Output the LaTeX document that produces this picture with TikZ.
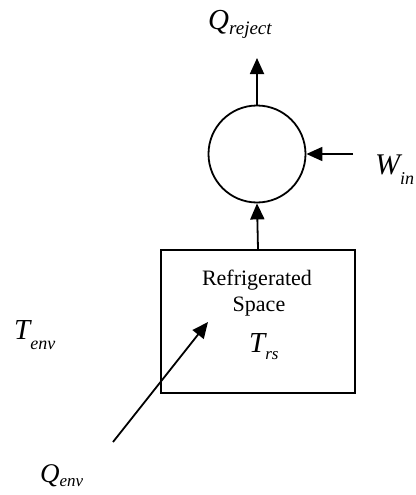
\documentclass[tikz,border=0pt]{standalone}
\usepackage{fontspec}
\setmainfont{Liberation Serif}
\usetikzlibrary{arrows.meta}
\newcommand\lab[5]{{\fontsize{#1}{#1}\selectfont\itshape #4}\raisebox{-#3pt}{\fontsize{#2}{#2}\selectfont\itshape #5}}
\begin{document}
\begin{tikzpicture}[x=1pt,y=-1pt,
  line/.style={line width=1.8pt},
  arr/.style={line width=1.8pt,-{Triangle[length=16pt,width=14pt]}},
  lbl/.style={inner sep=0pt, anchor=base west},
  txt/.style={font=\fontsize{22}{22}\selectfont, inner sep=0pt, anchor=base}]
\useasboundingbox (0,0) rectangle (415,495);
\node[draw, line, circle, minimum size=97pt, inner sep=0pt] (c) at (257,154) {};
\node[draw, line, rectangle, minimum width=194pt, minimum height=143pt, inner sep=0pt] (b) at (258,321.5) {};
\node[txt] (t1) at (257,285) {Refrigerated};
\node[txt] (t2) at (259,311) {Space};
\node[lbl] (trs) at (249,352) {\lab{29}{17}{7}{T}{rs}};
\node[lbl] (qr) at (208,30) {\lab{29}{19}{5}{Q}{reject}};
\node[lbl] (win) at (375,174) {\lab{30}{18}{10}{W}{in}};
\node[lbl] (tenv) at (14,339) {\lab{29}{18}{10}{T}{env}};
\node[lbl] (qenv) at (40,482) {\lab{27}{17}{4}{Q}{env}};
\coordinate (top) at (257,58);
\coordinate (ws) at (353,154);
\coordinate (es) at (113,442);
\coordinate (et) at (208,322);
\draw[arr] (c.north) -- (top);
\draw[arr] (b.north) -- (c.south);
\draw[arr] (ws) -- (c.east);
\draw[arr] (es) -- (et);
\end{tikzpicture}
\end{document}
